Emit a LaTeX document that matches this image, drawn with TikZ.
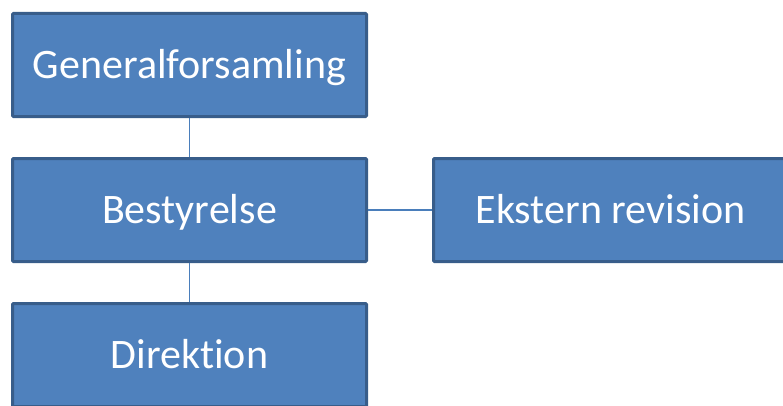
\documentclass[tikz,border=0pt]{standalone}
\usepackage{fontspec}
\setmainfont[Ligatures=NoCommon]{Carlito}
\usepackage{tikz}
\usepackage{xcolor}

\definecolor{boxfill}{HTML}{4F81BD}
\definecolor{boxline}{HTML}{385D8A}
\definecolor{linkline}{HTML}{4A7EBB}

\begin{document}
\begin{tikzpicture}[
  x=1pt,y=1pt,
  box/.style={draw=boxline,fill=boxfill,line width=3pt,rounded corners=1pt,
    minimum width=354pt,minimum height=103pt,text=white,
    text height=27pt,text depth=0pt,
    font=\fontsize{42}{50}\selectfont},
  edge/.style={draw=linkline,line width=1.6pt}
  ]

  \useasboundingbox[clip] (0,0) rectangle (783,405);

  \node[box] (gen)  at (189.5,340) {Generalforsamling};
  \node[box] (best) at (189.5,195) {Bestyrelse};
  \node[box] (dir)  at (189.5,50)  {Direktion};
  \node[box] (ekst) at (610.5,195) {Ekstern revision};

  \draw[edge] (gen) -- (best);
  \draw[edge] (best) -- (dir);
  \draw[edge] (best) -- (ekst);
\end{tikzpicture}
\end{document}
